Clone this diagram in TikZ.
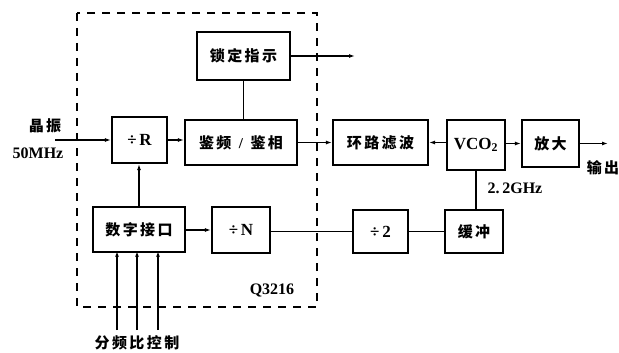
\documentclass[tikz,border=0pt]{standalone}
\usepackage{fontspec}
\setmainfont{Liberation Serif}
\newfontfamily\cjk[LetterSpace=16]{Noto Sans CJK SC}
\usetikzlibrary{arrows.meta}
\tikzset{
  blk/.style={draw, line width=2.2pt, inner sep=0pt, font=\fontsize{15}{17}\selectfont\bfseries},
  conn/.style={line width=1.4pt},
  arr/.style={conn, -{Latex[length=6pt,width=4pt]}},
  ctl/.style={line width=2pt, -{Latex[round,length=7pt,width=4pt]}},
  lbl/.style={inner sep=0pt, font=\fontsize{15}{17}\selectfont\bfseries},
  frame/.style={line width=1.3pt, dash pattern=on 8pt off 7pt}
}
\begin{document}
\begin{tikzpicture}[x=1pt,y=-1pt]
\useasboundingbox (0,0) rectangle (619,353);
\draw[frame] (77,13) rectangle (317,307);

\node[blk, minimum width=93pt, minimum height=48pt] (lock) at (243.5,56) {\cjk\bfseries 锁定指示};
\node[blk, minimum width=55pt, minimum height=46pt] (divR) at (139.5,140) {\fontsize{17}{19}\selectfont ÷\,R};
\node[blk, minimum width=112pt, minimum height=45pt] (pd) at (241,142.5) {{\cjk\bfseries 鉴频}\ \ /\ \ {\cjk\bfseries 鉴相}};
\node[blk, minimum width=95pt, minimum height=45pt] (lf) at (380.5,142.5) {\cjk\bfseries 环路滤波};
\node[blk, minimum width=58pt, minimum height=50pt] (vco) at (476,145) {\fontsize{17}{19}\selectfont VCO\textsubscript{2}};
\node[blk, minimum width=57pt, minimum height=47pt] (amp) at (550.5,143.5) {\cjk\bfseries 放大};
\node[blk, minimum width=58pt, minimum height=43pt] (buf) at (474,231.5) {\cjk\bfseries 缓冲};
\node[blk, minimum width=55pt, minimum height=43pt] (div2) at (380.5,231.5) {\fontsize{17}{19}\selectfont ÷\,2};
\node[blk, minimum width=58pt, minimum height=46pt] (divN) at (241,230) {\fontsize{17}{19}\selectfont ÷\,N};
\node[blk, minimum width=92pt, minimum height=45pt] (dig) at (139,229.5) {\cjk\bfseries 数字接口};

\node[lbl] (xtal) at (45,126) {\cjk\bfseries 晶振};
\node[lbl] (fin) at (38,153) {\fontsize{16}{18}\selectfont 50MHz};
\node[lbl] (outl) at (603,168) {\cjk\bfseries 输出};
\node[lbl] (ghz) at (515,188) {\fontsize{16}{18}\selectfont 2.\,2GHz};
\node[lbl] (chip) at (272,290) {\fontsize{16}{18}\selectfont Q3216};
\node[lbl] (ctrl) at (137,343) {\cjk\bfseries 分频比控制};

\coordinate (in) at (55,140);
\coordinate (lockout) at (355,56);
\coordinate (out) at (608,143.5);
\coordinate (c1) at (117,330);
\coordinate (c2) at (137,330);
\coordinate (c3) at (158,330);

\draw[arr] (in) -- (divR.west);
\draw[arr] (divR.east) -- (divR.east -| pd.west);
\draw[conn] (lock.south) -- (lock.south |- pd.north);
\draw[arr] (lock.east) -- (lockout);
\draw[arr] (pd.east) -- (lf.west);
\draw[arr] (vco.west |- lf.east) -- (lf.east);
\draw[arr] (vco.east |- amp.west) -- (amp.west);
\draw[arr] (amp.east) -- (out);
\draw[conn] (vco.south) -- (vco.south |- buf.north);
\draw[conn] (buf.west) -- (buf.west -| div2.east);
\draw[conn] (div2.west) -- (div2.west -| divN.east);
\draw[arr] (dig.east |- divN.west) -- (divN.west);
\draw[arr] (dig.north) -- (dig.north |- divR.south);
\draw[ctl] (c1) -- (c1 |- dig.south);
\draw[ctl] (c2) -- (c2 |- dig.south);
\draw[ctl] (c3) -- (c3 |- dig.south);
\end{tikzpicture}
\end{document}
